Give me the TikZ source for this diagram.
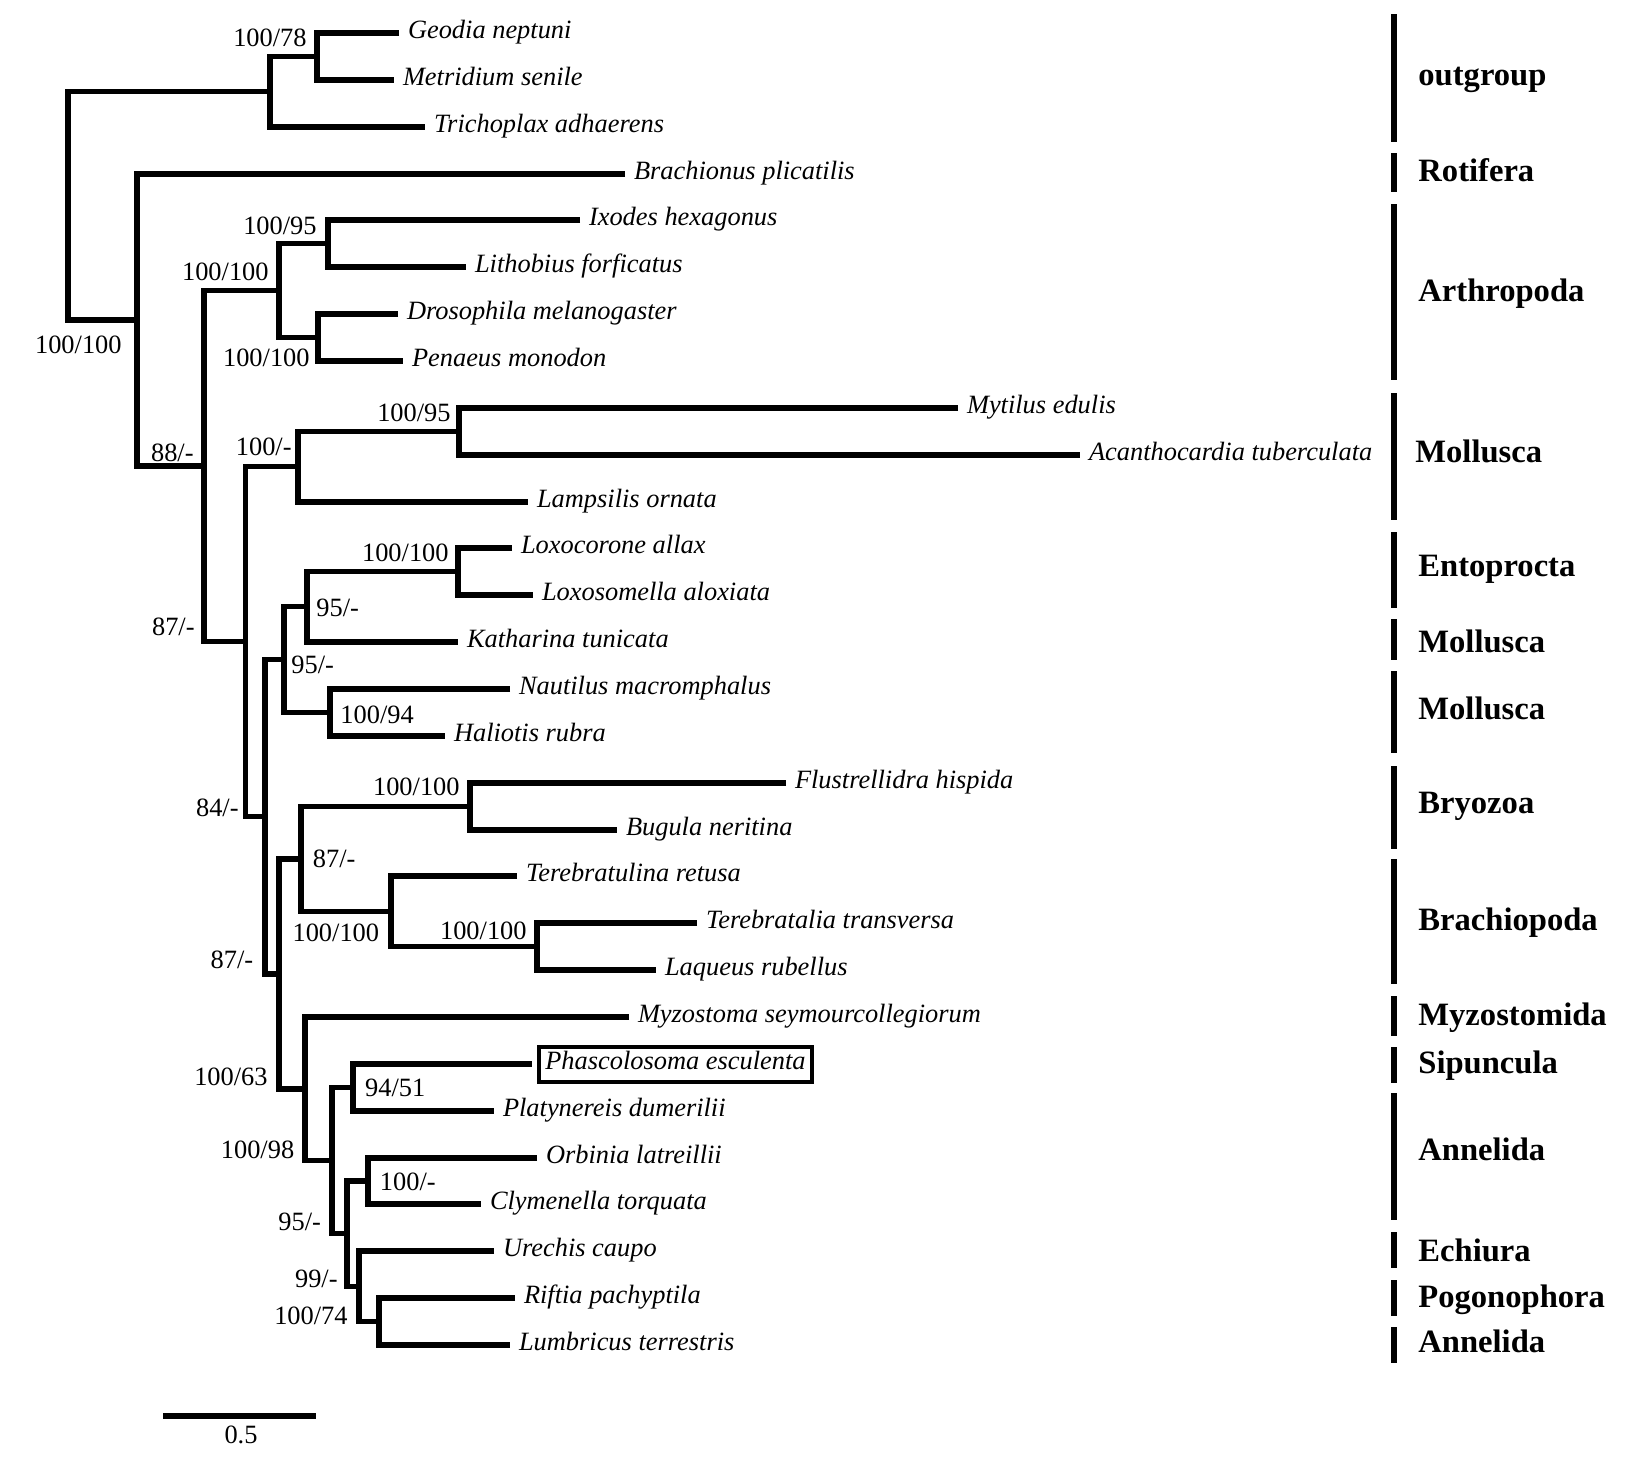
\documentclass[tikz,border=0pt]{standalone}
\usepackage{fontspec}
\setmainfont{Liberation Serif}

\begin{document}
\begin{tikzpicture}[x=0.5pt,y=-0.5pt,
  br/.style={line width=2.7pt},
  bar/.style={line width=3.3pt},
  leaf/.style={anchor=west,outer sep=0pt,inner xsep=4.5pt,inner ysep=0pt,
    font=\fontsize{13.2}{15}\selectfont\itshape,text height=9pt,text depth=3.9pt},
  bs/.style={inner sep=0pt,font=\fontsize{13.2}{15}\selectfont,
    text height=9pt,text depth=3.9pt},
  grp/.style={anchor=west,inner sep=0pt,font=\fontsize{16.3}{18}\selectfont\bfseries,
    text height=11.4pt,text depth=4.9pt}
]
\useasboundingbox (0,0) rectangle (1632,1458);

% taxa
\node[leaf] (geo) at (399,33) {Geodia neptuni};
\node[leaf] (met) at (394,80) {Metridium senile};
\node[leaf] (tri) at (425,127) {Trichoplax adhaerens};
\node[leaf] (bra) at (625,174) {Brachionus plicatilis};
\node[leaf] (ixo) at (580,220) {Ixodes hexagonus};
\node[leaf] (lit) at (466,267) {Lithobius forficatus};
\node[leaf] (dro) at (398,314) {Drosophila melanogaster};
\node[leaf] (pen) at (403,361) {Penaeus monodon};
\node[leaf] (myt) at (958,408) {Mytilus edulis};
\node[leaf] (aca) at (1080,455) {Acanthocardia tuberculata};
\node[leaf] (lam) at (528,502) {Lampsilis ornata};
\node[leaf] (lxc) at (512,548) {Loxocorone allax};
\node[leaf] (lxs) at (533,595) {Loxosomella aloxiata};
\node[leaf] (kat) at (458,642) {Katharina tunicata};
\node[leaf] (nau) at (510,689) {Nautilus macromphalus};
\node[leaf] (hal) at (445,736) {Haliotis rubra};
\node[leaf] (flu) at (786,783) {Flustrellidra hispida};
\node[leaf] (bug) at (617,830) {Bugula neritina};
\node[leaf] (ter) at (517,876) {Terebratulina retusa};
\node[leaf] (tra) at (697,923) {Terebratalia transversa};
\node[leaf] (laq) at (656,970) {Laqueus rubellus};
\node[leaf] (myz) at (629,1017) {Myzostoma seymourcollegiorum};
\node[leaf,draw,line width=2pt,inner xsep=3pt,inner ysep=2.3pt] (pha) at (539.3,1064) {Phascolosoma esculenta};
\node[leaf] (pla) at (494,1111) {Platynereis dumerilii};
\node[leaf] (orb) at (537,1158) {Orbinia latreillii};
\node[leaf] (cly) at (481,1204) {Clymenella torquata};
\node[leaf] (ure) at (494,1251) {Urechis caupo};
\node[leaf] (rif) at (515,1298) {Riftia pachyptila};
\node[leaf] (lum) at (510,1345) {Lumbricus terrestris};

% internal nodes
\coordinate (gm) at (317,56.5);
\coordinate (og) at (270,91.75);
\coordinate (il) at (328,243.5);
\coordinate (dp) at (318,337.5);
\coordinate (ar) at (279,290.5);
\coordinate (ma) at (459,431.5);
\coordinate (mo) at (298,466.75);
\coordinate (lx) at (458,571.5);
\coordinate (ek) at (307,606.75);
\coordinate (nh) at (330,712.5);
\coordinate (c1) at (284,659.6);
\coordinate (bz) at (470,806.5);
\coordinate (tl) at (537,946.5);
\coordinate (bp) at (391,911.25);
\coordinate (bb) at (301,858.9);
\coordinate (pp) at (353,1087.5);
\coordinate (oc) at (368,1181);
\coordinate (rl) at (379,1321.5);
\coordinate (b9) at (359,1286.25);
\coordinate (b8) at (347,1233.6);
\coordinate (b7) at (332,1160.6);
\coordinate (b6) at (305,1088.8);
\coordinate (b5) at (279,973.9);
\coordinate (b4) at (265,816.7);
\coordinate (b3) at (245.5,641.7);
\coordinate (b2) at (204,466.1);
\coordinate (b1) at (137,320);
\coordinate (root) at (68,205.9);

% branches
\draw[br] (geo.west) -| (gm) |- (met.west);
\draw[br] (gm) -| (og) |- (tri.west);
\draw[br] (og) -| (root) |- (b1);
\draw[br] (bra.west) -| (b1) |- (b2);
\draw[br] (ar) -| (b2) |- (b3);
\draw[br] (il) -| (ar) |- (dp);
\draw[br] (ixo.west) -| (il) |- (lit.west);
\draw[br] (dro.west) -| (dp) |- (pen.west);
\draw[br] (mo) -| (b3) |- (b4);
\draw[br] (ma) -| (mo) |- (lam.west);
\draw[br] (myt.west) -| (ma) |- (aca.west);
\draw[br] (c1) -| (b4) |- (b5);
\draw[br] (ek) -| (c1) |- (nh);
\draw[br] (lx) -| (ek) |- (kat.west);
\draw[br] (lxc.west) -| (lx) |- (lxs.west);
\draw[br] (nau.west) -| (nh) |- (hal.west);
\draw[br] (bb) -| (b5) |- (b6);
\draw[br] (bz) -| (bb) |- (bp);
\draw[br] (flu.west) -| (bz) |- (bug.west);
\draw[br] (ter.west) -| (bp) |- (tl);
\draw[br] (tra.west) -| (tl) |- (laq.west);
\draw[br] (myz.west) -| (b6) |- (b7);
\draw[br] (pp) -| (b7) |- (b8);
\draw[br] ([xshift=-3.8pt]pha.west) -| (pp) |- (pla.west);
\draw[br] (oc) -| (b8) |- (b9);
\draw[br] (orb.west) -| (oc) |- (cly.west);
\draw[br] (ure.west) -| (b9) |- (rl);
\draw[br] (rif.west) -| (rl) |- (lum.west);

% support values
\node[bs,anchor=east] (sgm) at (307,41) {100/78};
\node[bs,anchor=east] (sroot) at (122,348) {100/100};
\node[bs,anchor=east] (sil) at (317,229) {100/95};
\node[bs,anchor=east] (sar) at (269,275) {100/100};
\node[bs,anchor=east] (sdp) at (310,361) {100/100};
\node[bs,anchor=east] (sma) at (451,416) {100/95};
\node[bs,anchor=east] (sb2) at (194,456) {88/-};
\node[bs,anchor=east] (smo) at (292,450) {100/-};
\node[bs,anchor=east] (slx) at (449,556) {100/100};
\node[bs,anchor=west] (sek) at (316,611) {95/-};
\node[bs,anchor=east] (sb3) at (195,630) {87/-};
\node[bs,anchor=west] (sc1) at (291,668) {95/-};
\node[bs,anchor=west] (snh) at (340,718) {100/94};
\node[bs,anchor=east] (sb4) at (239,811) {84/-};
\node[bs,anchor=east] (sbz) at (460,790) {100/100};
\node[bs,anchor=west] (sbb) at (312.5,862) {87/-};
\node[bs,anchor=east] (sbp) at (379.5,936) {100/100};
\node[bs,anchor=east] (stl) at (527,934) {100/100};
\node[bs,anchor=east] (sb5) at (253.6,963) {87/-};
\node[bs,anchor=east] (sb6) at (268,1080) {100/63};
\node[bs,anchor=west] (spp) at (364.7,1091) {94/51};
\node[bs,anchor=east] (sb7) at (294.6,1153) {100/98};
\node[bs,anchor=west] (soc) at (379.5,1185) {100/-};
\node[bs,anchor=east] (sb8) at (321.4,1225) {95/-};
\node[bs,anchor=east] (sb9) at (338,1282) {99/-};
\node[bs,anchor=east] (srl) at (348,1319) {100/74};

% groups
\draw[bar] (1394,14) -- (1394,142);
\node[grp] (gout) at (1418,79) {outgroup};
\draw[bar] (1394,153) -- (1394,192);
\node[grp] (grot) at (1418,175) {Rotifera};
\draw[bar] (1394,204) -- (1394,380);
\node[grp] (gart) at (1418,295) {Arthropoda};
\draw[bar] (1394,393) -- (1394,520);
\node[grp] (gmo1) at (1415,456) {Mollusca};
\draw[bar] (1394,532) -- (1394,608);
\node[grp] (gent) at (1418,570) {Entoprocta};
\draw[bar] (1394,619) -- (1394,660);
\node[grp] (gmo2) at (1418,646) {Mollusca};
\draw[bar] (1394,671) -- (1394,753);
\node[grp] (gmo3) at (1418,713) {Mollusca};
\draw[bar] (1394,766) -- (1394,849);
\node[grp] (gbry) at (1418,807) {Bryozoa};
\draw[bar] (1394,859) -- (1394,984);
\node[grp] (gbra) at (1418,924) {Brachiopoda};
\draw[bar] (1394,996) -- (1394,1036);
\node[grp] (gmyz) at (1418,1019) {Myzostomida};
\draw[bar] (1394,1047) -- (1394,1083);
\node[grp] (gsip) at (1418,1067) {Sipuncula};
\draw[bar] (1394,1093) -- (1394,1220);
\node[grp] (gan1) at (1418,1154) {Annelida};
\draw[bar] (1394,1232) -- (1394,1268);
\node[grp] (gech) at (1418,1255) {Echiura};
\draw[bar] (1394,1280) -- (1394,1316);
\node[grp] (gpog) at (1418,1301) {Pogonophora};
\draw[bar] (1394,1327) -- (1394,1363);
\node[grp] (gan2) at (1418,1346) {Annelida};

% scale bar
\draw[br] (163,1416) -- (316,1416);
\node[bs] (scl) at (241,1438) {0.5};
\end{tikzpicture}
\end{document}
